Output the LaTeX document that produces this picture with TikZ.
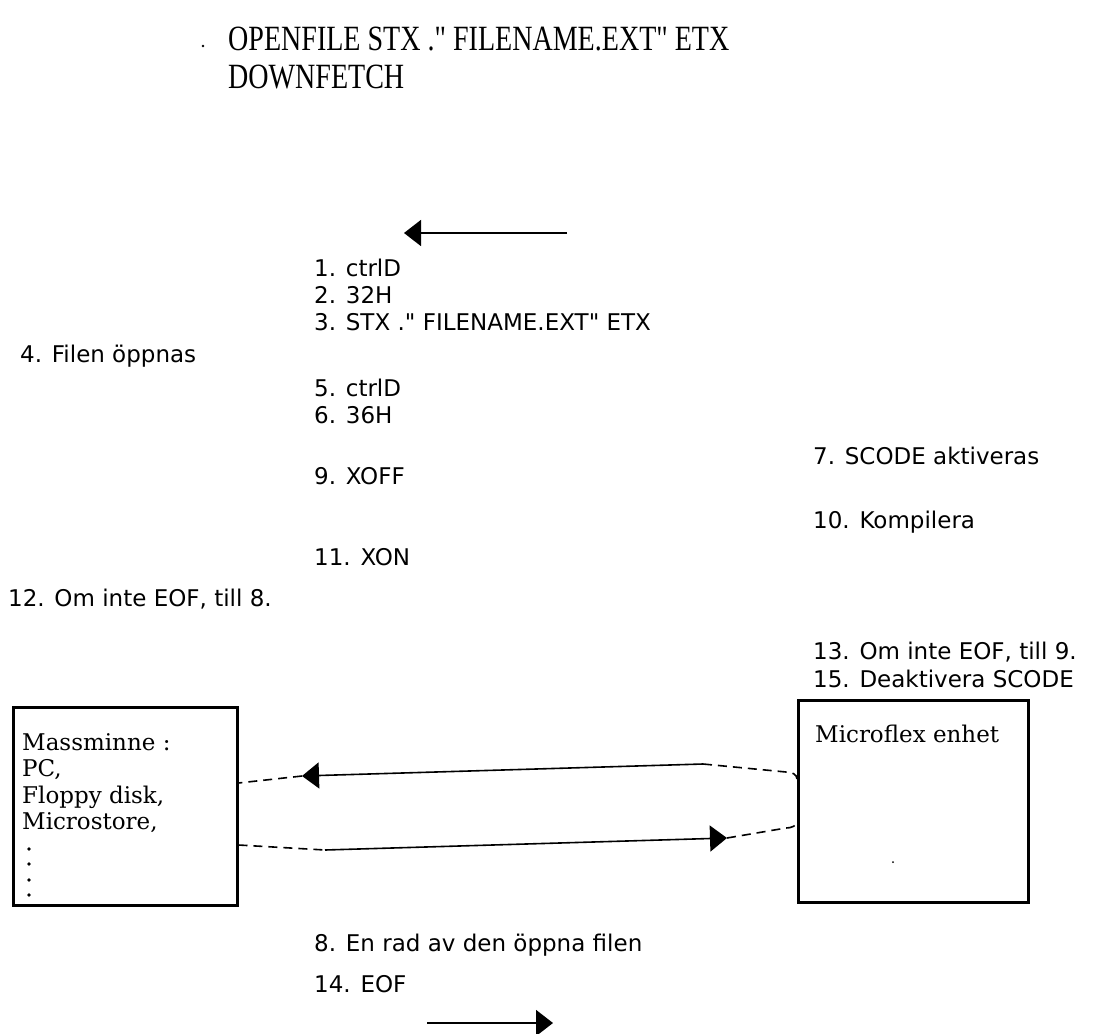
\documentclass[tikz,border=0pt]{standalone}
\usepackage{fontspec}
\usetikzlibrary{arrows.meta}
\newfontfamily\titlefont[FakeStretch=0.79]{Liberation Serif}
\newfontfamily\lstfont{DejaVu Sans}
\newfontfamily\boxfont{DejaVu Serif}
\begin{document}
\begin{tikzpicture}[x=1pt,y=-1pt,
  ttl/.style={anchor=base west,inner sep=0pt,font=\titlefont\fontsize{35.5}{38}\selectfont},
  lbl/.style={anchor=base west,inner sep=0pt,font=\lstfont\fontsize{23}{26}\selectfont},
  unit/.style={draw,line width=2.5pt,inner sep=0pt,anchor=north west},
  btxt/.style={anchor=base west,inner sep=0pt,font=\boxfont\fontsize{23}{26.5}\selectfont},
  conn/.style={line width=1.6pt},
  dconn/.style={line width=1.6pt,dash pattern=on 9pt off 6pt},
  tip/.style={-{Triangle[length=17pt,width=26pt]}}]
\useasboundingbox (0,0) rectangle (1101,1034);
% title
\node[ttl] (t1) at (228,50) {OPENFILE STX ." FILENAME.EXT" ETX};
\node[ttl] (t2) at (228,88) {DOWNFETCH};
\fill (203,46) circle (1.3pt);
% top arrow
\coordinate (ta1) at (567,233);
\coordinate (ta2) at (404,233);
\draw[conn,tip] (ta1) -- (ta2);
% list labels
\node[lbl] (l1) at (314,276) {1. ctrlD};
\node[lbl] (l2) at (314,303) {2. 32H};
\node[lbl] (l3) at (314,330) {3. STX ." FILENAME.EXT" ETX};
\node[lbl] (l4) at (20,362) {4. Filen öppnas};
\node[lbl] (l5) at (314,396) {5. ctrlD};
\node[lbl] (l6) at (314,423) {6. 36H};
\node[lbl] (l7) at (813,464) {7. SCODE aktiveras};
\node[lbl] (l9) at (314,484) {9. XOFF};
\node[lbl] (l10) at (813,528) {10. Kompilera};
\node[lbl] (l11) at (314,565) {11. XON};
\node[lbl] (l12) at (8,606) {12. Om inte EOF, till 8.};
\node[lbl] (l13) at (813,659) {13. Om inte EOF, till 9.};
\node[lbl] (l15) at (813,687) {15. Deaktivera SCODE};
\node[lbl] (l8) at (314,951) {8. En rad av den öppna filen};
\node[lbl] (l14) at (314,992) {14. EOF};
% boxes
\node[unit,minimum width=224pt,minimum height=198pt] (L) at (12,706) {};
\node[unit,minimum width=230pt,minimum height=202pt] (R) at (797,699) {};
\node[btxt] (lt1) at (22,750) {Massminne :};
\node[btxt] (lt2) at (22,776.5) {PC,};
\node[btxt] (lt3) at (22,803) {Floppy disk,};
\node[btxt] (lt4) at (22,829.5) {Microstore,};
\foreach \yy in {849,864,880,895} \fill (29,\yy) circle (1.8pt);
\node[btxt] (rt) at (815,742) {Microflex enhet};
\fill (893,862) circle (1pt);
% upper connector (towards Massminne)
\coordinate (u1) at (L.east |- 0,783);
\coordinate (u2) at (302,776);
\coordinate (u3) at (703,764);
\coordinate (u4) at (786,772);
\coordinate (u5) at (R.west |- 0,779);
\draw[conn,tip] (u3) -- (u2);
\draw[dconn] (u2) -- (u1);
\draw[dconn] (u3) -- (u4) to[out=0,in=90] (u5);
% lower connector (towards Microflex)
\coordinate (w1) at (L.east |- 0,845);
\coordinate (w2) at (325,850);
\coordinate (w3) at (727,838);
\coordinate (w4) at (786,828);
\coordinate (w5) at (R.west |- 0,821);
\draw[dconn] (w1) -- (w2);
\draw[conn,tip] (w2) -- (w3);
\draw[dconn] (w3) -- (w4) to[out=0,in=-90] (w5);
% bottom arrow
\coordinate (ba1) at (427,1023);
\coordinate (ba2) at (553,1023);
\draw[conn,tip] (ba1) -- (ba2);
\end{tikzpicture}
\end{document}
